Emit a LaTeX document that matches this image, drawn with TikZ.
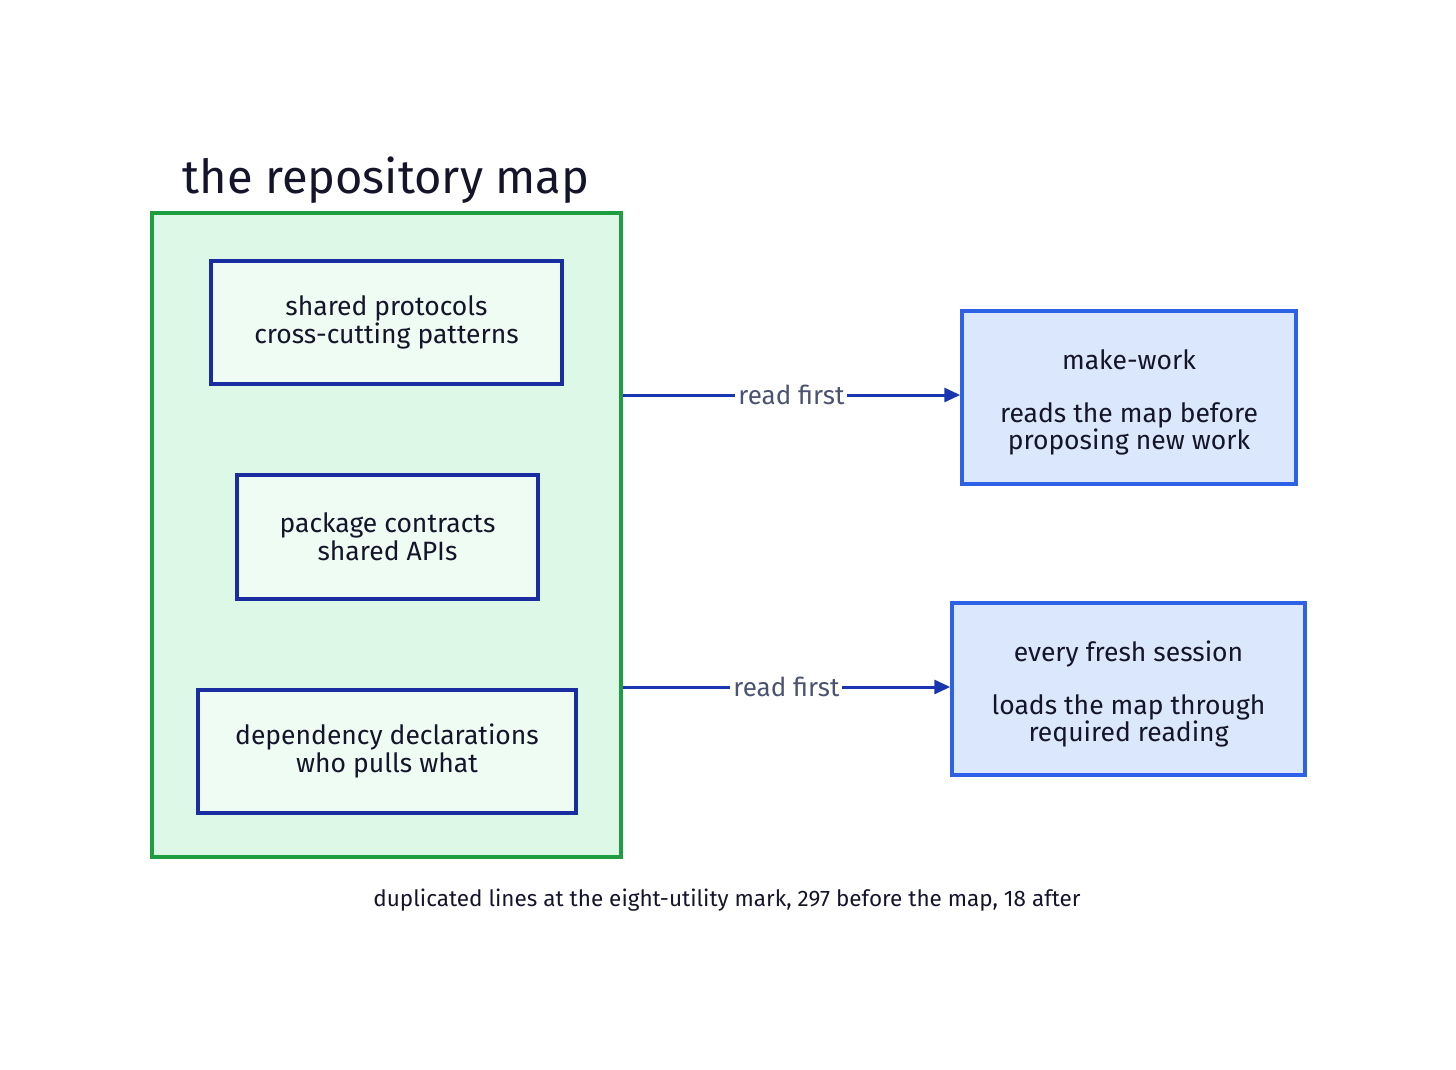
\documentclass[tikz,border=0pt]{standalone}
\usepackage{fontspec}
\setmainfont{Fira Sans}
\usetikzlibrary{arrows.meta}
\definecolor{gfill}{HTML}{DDF8E6}
\definecolor{gline}{HTML}{1E9E40}
\definecolor{ifill}{HTML}{EFFCF4}
\definecolor{iline}{HTML}{1A2DA0}
\definecolor{bfill}{HTML}{DBE7FC}
\definecolor{bline}{HTML}{2D62E6}
\definecolor{aline}{HTML}{1A35B0}
\definecolor{lbl}{HTML}{4B5370}
\definecolor{ink}{HTML}{15152A}
\tikzset{
  groupbox/.style={draw=gline, fill=gfill, line width=3.2pt, inner sep=0pt},
  innerbox/.style={draw=iline, fill=ifill, line width=4pt, inner sep=0pt, align=center,
    text=ink, font=\fontsize{26.5}{28}\selectfont},
  sidebox/.style={draw=bline, fill=bfill, line width=3.5pt, inner sep=0pt},
  sidetext/.style={align=center, text=ink, inner sep=0pt, font=\fontsize{26.5}{27}\selectfont},
  conn/.style={draw=aline, line width=3pt, -{Triangle[length=16pt,width=14pt]}},
  connlbl/.style={fill=white, text=lbl, inner sep=3pt, font=\fontsize{26}{28}\selectfont},
}
\begin{document}
\begin{tikzpicture}[x=1pt,y=-1pt]
\useasboundingbox (0,0) rectangle (1456,1070);
\node[text=ink, font=\fontsize{47}{52}\selectfont] (title) at (386,180) {the repository map};
\node[groupbox, minimum width=469pt, minimum height=644pt] (grp) at (386.5,535) {};
\node[innerbox, minimum width=351pt, minimum height=123pt] (b1) at (386.5,322) {shared protocols\\cross-cutting patterns};
\node[innerbox, minimum width=301pt, minimum height=124pt] (b2) at (387.5,537) {package contracts\\shared APIs};
\node[innerbox, minimum width=378pt, minimum height=123pt] (b3) at (387,751) {dependency declarations\\who pulls what};
\node[sidebox, minimum width=334pt, minimum height=173pt] (r1) at (1129,397.5) {};
\node[sidetext] (r1t) at ([yshift=-5pt]r1.center) {make-work\\[26pt]reads the map before\\proposing new work};
\node[sidebox, minimum width=353pt, minimum height=172pt] (r2) at (1128.5,689) {};
\node[sidetext] (r2t) at ([yshift=-5pt]r2.center) {every fresh session\\[26pt]loads the map through\\required reading};
\coordinate (a1s) at (grp.east |- 0,395);
\coordinate (a2s) at (grp.east |- 0,687);
\draw[conn] (a1s) -- node[connlbl] {read first} (r1.west |- a1s);
\draw[conn] (a2s) -- node[connlbl] {read first} (r2.west |- a2s);
\node[text=ink, font=\fontsize{22.5}{24}\selectfont] (foot) at (727,900) {duplicated lines at the eight-utility mark, 297 before the map, 18 after};
\end{tikzpicture}
\end{document}
